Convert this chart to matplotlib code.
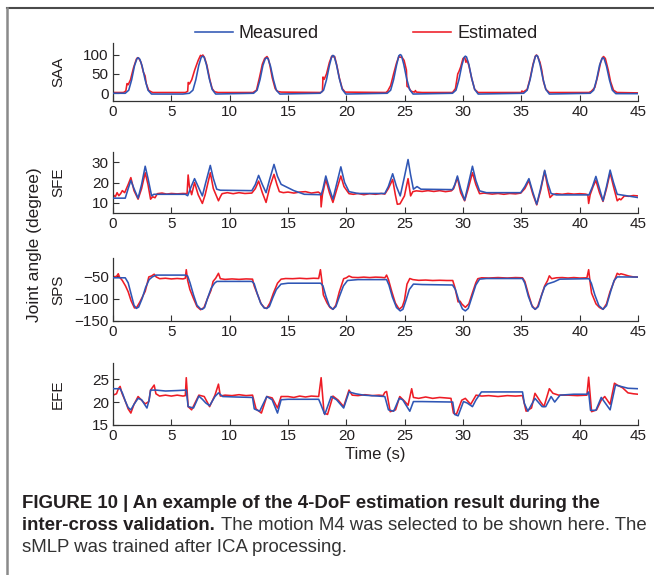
import matplotlib
matplotlib.use("Agg")
import matplotlib.pyplot as plt
from matplotlib import font_manager
from matplotlib.lines import Line2D

# ---------------- data ----------------
x_ticks = [0, 5, 10, 15, 20, 25, 30, 35, 40, 45]
panel_names = ["SAA", "SFE", "SPS", "EFE"]
y_ticks = {"SAA": [0, 50, 100], "SFE": [10, 20, 30], "SPS": [-150, -100, -50], "EFE": [15, 20, 25]}
y_limits = {"SAA": (-20, 130), "SFE": (5, 35), "SPS": (-150, -10), "EFE": (15, 28.5)}
legend_labels = ["Measured", "Estimated"]

t_saa_meas = [0, 1.05, 1.35, 1.6, 1.85, 2.05, 2.15, 2.3, 2.5, 2.75, 3.0, 3.3, 4.5, 6.0,
              6.55, 6.85, 7.1, 7.35, 7.55, 7.66, 7.8, 8.0, 8.25, 8.5, 8.8,
              12.05, 12.35, 12.6, 12.85, 13.05, 13.18, 13.3, 13.5, 13.75, 14.0, 14.3,
              17.75, 18.05, 18.3, 18.55, 18.75, 18.85, 18.95, 19.15, 19.4, 19.65, 19.95,
              23.5, 23.8, 24.05, 24.3, 24.5, 24.62, 24.72, 24.92, 25.17, 25.42, 25.72,
              29.1, 29.4, 29.65, 29.9, 30.1, 30.2, 30.3, 30.5, 30.75, 31.0, 31.3,
              35.2, 35.5, 35.75, 36.0, 36.2, 36.3, 36.4, 36.6, 36.85, 37.1, 37.4,
              40.9, 41.2, 41.45, 41.7, 41.9, 42.0, 42.1, 42.3, 42.55, 42.8, 43.1, 45.0]
saa_meas = [0, 0, 8, 35, 72, 89, 92, 88, 70, 35, 8, -2, -2, -2,
            0, 8, 35, 72, 92, 96, 94, 75, 38, 10, -2,
            0, 8, 35, 72, 89, 92, 89, 70, 35, 8, -2,
            0, 8, 35, 72, 95, 98, 96, 75, 38, 10, -2,
            0, 8, 35, 72, 97, 100, 98, 75, 38, 10, -2,
            0, 8, 35, 72, 93, 96, 94, 75, 38, 10, -2,
            0, 8, 35, 72, 95, 98, 96, 75, 38, 10, -2,
            0, 8, 35, 72, 89, 92, 89, 70, 35, 8, -1, -1]

t_saa_est = [0, 0.9, 1.1, 1.2, 1.3, 1.5, 1.75, 2.0, 2.1, 2.2, 2.4, 2.6, 2.75, 2.85, 3.05, 3.2, 3.4,
             6.2, 6.4, 6.45, 6.55, 6.75, 7.0, 7.3, 7.5, 7.6, 7.7, 7.85, 8.05, 8.3, 8.5, 8.7, 9.0,
             12.0, 12.3, 12.55, 12.8, 13.0, 13.2, 13.3, 13.45, 13.65, 13.9, 14.1, 14.4,
             17.8, 17.95, 18.0, 18.1, 18.3, 18.55, 18.75, 18.85, 19.0, 19.2, 19.4, 19.65, 19.9,
             23.4, 23.55, 23.8, 24.05, 24.3, 24.5, 24.62, 24.75, 24.95, 25.15, 25.2, 25.35, 25.55,
             25.85, 25.92, 26.0, 26.5,
             29.1, 29.35, 29.55, 29.65, 29.8, 30.0, 30.15, 30.25, 30.35, 30.5, 30.75, 31.0, 31.3,
             35.0, 35.05, 35.15, 35.5, 35.75, 36.0, 36.2, 36.3, 36.4, 36.6, 36.75, 36.9, 37.1, 37.4,
             40.8, 41.0, 41.3, 41.55, 41.8, 41.95, 42.05, 42.2, 42.45, 42.65, 42.9, 43.2, 45.0]
saa_est = [2, 2, 6, 25, 22, 35, 65, 88, 92, 91, 80, 55, 45, 25, 8, 5, 2,
           2, 5, 28, 24, 35, 60, 85, 98, 96, 99, 92, 72, 35, 12, 4, 2,
           2, 8, 40, 75, 90, 95, 90, 72, 40, 12, 5, 3,
           2, 5, 42, 36, 50, 80, 96, 94, 95, 70, 40, 12, 3,
           2, 6, 20, 50, 78, 95, 93, 94, 85, 60, 18, 15, 5,
           3, 7, 3, 2,
           2, 12, 50, 56, 68, 90, 93, 80, 86, 72, 38, 10, 2,
           2, 6, 3, 10, 38, 75, 96, 99, 95, 80, 60, 30, 10, 2,
           2, 5, 15, 45, 80, 92, 95, 90, 60, 30, 8, 2, 1]

t_sfe_meas = [0, 1.05, 1.3, 1.53, 1.8, 2.15, 2.45, 2.76, 3.0, 3.31, 3.5, 6.2,
              6.4, 6.7, 6.99, 7.3, 7.66, 7.95, 8.34, 8.6, 8.89, 9.2, 11.9,
              12.2, 12.48, 12.8, 13.12, 13.45, 13.8, 14.1, 14.41, 15.5, 16.4, 17.85,
              18.0, 18.24, 18.55, 18.85, 19.2, 19.53, 19.85, 20.23, 21.0, 23.3,
              23.6, 23.97, 24.3, 24.62, 24.95, 25.29, 25.5, 25.75, 26.06, 26.4, 29.1,
              29.3, 29.52, 29.8, 30.14, 30.45, 30.81, 31.1, 31.42, 32.0, 34.95,
              35.3, 35.65, 36.0, 36.32, 36.65, 37.0, 37.25, 37.55, 38.0, 40.8,
              41.1, 41.39, 41.7, 42.0, 42.3, 42.61, 42.9, 43.22, 44.0, 45.0]
sfe_meas = [12.3, 12.3, 17, 21, 17, 12.3, 19, 28, 22, 13.4, 14.2, 14.2,
            13.5, 18, 21.9, 18, 13.4, 20, 28.4, 22, 16.7, 16.2, 16,
            19, 23.5, 19, 15, 22, 28.9, 23, 19.1, 16, 14.2, 14.0,
            17, 23.2, 17, 11.8, 20, 27.7, 20, 15.5, 14.6, 14.6,
            18, 24.3, 18, 13.4, 22, 31.3, 24, 16.7, 18, 16.7, 16.5,
            19, 23.2, 17, 11.3, 19, 28, 21, 15.9, 15, 15,
            18, 21.9, 15, 9.3, 17, 26, 20, 14.6, 13.9, 13.9,
            18, 23, 17, 11, 18, 26.1, 20, 14.2, 13.5, 12.6]

t_sfe_est = [0, 0.2, 0.35, 0.5, 0.65, 0.8, 1.0, 1.3, 1.53, 1.8, 2.15, 2.45, 2.76, 3.0, 3.22, 3.4,
             3.6, 3.8, 4.2, 4.6, 5.0, 5.5, 6.0, 6.35, 6.44, 6.55, 6.74, 6.99, 7.3, 7.66, 7.9,
             8.34, 8.6, 9.04, 9.2, 9.35, 9.8, 10.3, 10.8, 11.3, 11.9, 12.2, 12.48, 12.8, 13.12,
             13.45, 13.8, 14.05, 14.26, 14.6, 15.0, 15.5, 16.0, 16.5, 17.0, 17.6, 17.8, 17.84,
             17.95, 18.24, 18.55, 18.85, 19.2, 19.53, 19.8, 20.23, 20.6, 21.0, 21.5, 22.0, 22.5,
             23.0, 23.3, 23.6, 23.97, 24.2, 24.37, 24.6, 24.98, 25.29, 25.51, 25.7, 26.0, 26.5,
             27.0, 27.5, 28.0, 28.5, 29.0, 29.2, 29.52, 29.8, 30.14, 30.45, 30.81, 31.1, 31.42,
             31.8, 32.5, 33.0, 33.5, 34.0, 34.5, 34.95, 35.3, 35.65, 36.0, 36.32, 36.65, 37.0,
             37.25, 37.46, 37.7, 38.0, 38.5, 39.0, 39.5, 40.0, 40.5, 40.7, 40.77, 40.9, 41.15,
             41.39, 41.7, 42.0, 42.3, 42.61, 42.9, 43.22, 43.4, 43.53, 43.83, 44.2, 44.6, 45.0]
sfe_est = [14, 13, 15, 13.5, 14.5, 16, 15, 19, 22.4, 16, 11.8, 17, 24.8, 19, 11.8, 13,
           12.5, 14.5, 14.8, 14.3, 14.6, 14.4, 14.6, 14.5, 23.7, 18, 14, 20, 14, 9.7, 14,
           24.8, 17, 11, 13, 14.5, 15, 14.5, 15, 14.6, 14.8, 17, 20.7, 15, 10.2,
           18, 24, 19, 15.5, 15, 15.3, 14.8, 15.3, 15.5, 14.8, 15.3, 14.5, 8,
           14, 21.5, 15, 10.2, 17, 23.2, 18, 14.5, 14.2, 14.6, 14, 14.5, 14.2,
           14.6, 14.3, 17, 21.5, 14, 9.3, 9.5, 13.4, 21.9, 13.4, 15.5, 15.9, 15.6,
           16, 15.6, 16, 15.5, 15.9, 17, 22.4, 15, 11, 17, 24.8, 19, 14.5,
           14.8, 14.3, 14.6, 14.2, 14.6, 14.4, 14.8, 17, 21, 14, 9, 16, 25.6,
           18, 12.6, 14, 14.5, 14.2, 14.6, 14.3, 14.5, 14.3, 14, 9.7, 14, 18,
           21, 15, 10.7, 17, 24.8, 18, 11, 12, 11.5, 13.4, 13.2, 13.6, 13.4]

t_sps_meas = [0, 1.05, 1.3, 1.55, 1.8, 2.0, 2.2, 2.5, 2.8, 3.1, 3.37, 3.7, 6.2,
              6.4, 6.6, 6.9, 7.2, 7.5, 7.66, 7.85, 8.1, 8.4, 8.7, 8.9, 11.9,
              12.1, 12.35, 12.65, 12.95, 13.18, 13.4, 13.7, 14.0, 14.4, 15.0, 17.8,
              18.0, 18.25, 18.55, 18.85, 19.1, 19.4, 19.75, 20.1, 21.0, 23.45,
              23.65, 23.95, 24.3, 24.62, 24.85, 25.1, 25.4, 25.75, 26.5, 29.1,
              29.35, 29.65, 29.95, 30.2, 30.45, 30.75, 31.1, 31.42, 32.0, 35.1,
              35.3, 35.6, 35.95, 36.2, 36.45, 36.75, 37.0, 37.25, 37.8, 38.3, 40.8,
              41.0, 41.3, 41.65, 42.0, 42.3, 42.65, 42.95, 43.22, 45.0]
sps_meas = [-54, -54, -65, -90, -115, -122, -119, -100, -75, -58, -52, -48, -48,
            -50, -65, -92, -115, -123, -124, -120, -100, -78, -66, -62, -62,
            -67, -88, -110, -121, -122, -118, -98, -80, -68, -66, -66,
            -72, -95, -117, -124, -118, -96, -72, -60, -58, -58,
            -70, -97, -120, -127.6, -124, -105, -80, -68, -69, -70,
            -80, -105, -123, -127.6, -122, -98, -70, -57, -55.6, -55.6,
            -66, -95, -119, -124, -118, -92, -74, -67.6, -63, -57, -56,
            -66, -92, -116, -124, -116, -85, -60, -52, -52.4]

t_sps_est = [0, 0.3, 0.45, 0.55, 0.8, 1.07, 1.3, 1.55, 1.84, 2.05, 2.3, 2.6, 2.76, 2.9, 3.07,
             3.3, 3.53, 3.7, 4.0, 4.5, 5.0, 5.5, 6.0, 6.2, 6.28, 6.4, 6.59, 6.9, 7.2, 7.51,
             7.8, 8.1, 8.4, 8.58, 8.8, 9.04, 9.2, 9.6, 10.2, 10.8, 11.4, 11.96, 12.1, 12.4,
             12.7, 13.0, 13.18, 13.45, 13.75, 14.1, 14.41, 14.8, 15.4, 16.0, 16.6, 17.2, 17.63,
             17.78, 17.9, 18.03, 18.35, 18.6, 18.85, 19.1, 19.4, 19.77, 20.0, 20.23, 20.5, 21.0,
             21.5, 22.0, 22.5, 23.0, 23.3, 23.45, 23.61, 23.9, 24.2, 24.53, 24.8, 24.98, 25.1,
             25.2, 25.44, 25.7, 26.2, 26.8, 27.4, 28.0, 28.6, 29.12, 29.3, 29.58, 29.75, 29.89,
             30.2, 30.5, 30.8, 31.1, 31.27, 31.6, 32.2, 33.0, 33.8, 34.5, 35.1, 35.3, 35.6,
             35.9, 36.17, 36.4, 36.7, 37.0, 37.25, 37.4, 37.6, 38.0, 38.5, 39.0, 39.5, 40.0,
             40.62, 40.77, 40.9, 41.02, 41.4, 41.7, 42.0, 42.3, 42.6, 42.92, 43.22, 43.4,
             43.53, 43.83, 44.2, 44.6, 45.0]
sps_est = [-52, -51, -45, -52, -60, -72, -85, -105, -121, -119, -108, -92, -84, -70, -52,
           -50, -46, -52, -56, -55, -56.5, -55.5, -56.5, -55, -36, -60, -80, -100, -118, -125,
           -120, -100, -82, -62, -55, -44, -56, -57.5, -56.5, -57.5, -56.5, -57, -72, -92,
           -112, -121, -122, -110, -88, -66, -57, -55.6, -56, -55, -56, -55, -55.5,
           -36, -60, -92, -110, -120, -124, -115, -85, -56, -54, -50, -53, -53.5,
           -52.5, -53.5, -52.5, -53, -54, -48, -58, -85, -110, -124, -118, -104, -85,
           -68, -55.6, -58, -59.6, -59, -60, -59.5, -60, -60, -75, -107.6, -106, -112,
           -119.6, -112, -88, -65, -56, -54, -54.5, -53.5, -54.5, -53.5, -54, -62, -90,
           -115, -124, -118, -95, -72, -60, -49.6, -56, -54, -53.5, -54.5, -53.5, -54.5,
           -54, -36, -65, -88, -112, -120, -124, -112, -85, -64, -44, -47,
           -45, -47, -50, -52, -52.4]

t_efe_meas = [0, 0.61, 0.8, 1.07, 1.3, 1.53, 1.8, 2.15, 2.45, 2.7, 2.91, 3.1, 3.22, 3.68, 4.5,
              5.5, 6.28, 6.44, 6.9, 7.36, 7.66, 7.95, 8.28, 8.74, 9.04, 9.4, 10.5, 11.96, 12.11,
              12.57, 13.18, 13.64, 14.1, 14.41, 15.0, 17.63, 17.78, 18.15, 18.7, 19.16, 19.77,
              20.23, 20.8, 21.5, 23.3, 23.61, 24.06, 24.53, 24.83, 25.44, 25.75, 26.5, 29.12,
              29.28, 29.58, 30.04, 30.35, 30.81, 31.12, 31.58, 33.0, 35.1, 35.26, 35.56, 36.17,
              36.78, 37.09, 37.55, 37.86, 38.32, 39.5, 40.62, 40.77, 40.93, 41.39, 41.85, 42.61,
              43.07, 43.53, 44.14, 45.0]
efe_meas = [22.9, 22.9, 22.0, 20.1, 18.8, 18.3, 19.5, 20.8, 20.5, 19.5, 18.7, 20.5, 22.6, 22.6, 22.4,
            22.5, 22.6, 19.0, 18.7, 21.3, 20.6, 19.8, 19.2, 21.2, 22.0, 21.2, 21.1, 21.0, 18.5,
            18.0, 21.2, 20.5, 17.6, 20.5, 20.6, 20.6, 19.7, 17.3, 21.2, 20.5, 18.7,
            22.2, 21.8, 21.5, 21.2, 18.3, 18.0, 20.8, 20.5, 18.0, 20.1, 20.1, 20.0,
            17.3, 17.0, 20.1, 19.8, 19.0, 20.5, 22.2, 22.2, 22.2, 19.7, 18.0, 20.8,
            19.0, 19.0, 21.2, 20.0, 21.5, 21.7, 21.7, 22.2, 18.2, 18.2, 21.0, 18.3,
            23.7, 23.4, 23.0, 22.9]

t_efe_est = [0, 0.3, 0.46, 0.61, 0.77, 1.07, 1.3, 1.53, 1.8, 2.15, 2.45, 2.76, 3.07, 3.22, 3.53,
             3.68, 3.99, 4.5, 5.0, 5.5, 6.0, 6.2, 6.28, 6.44, 6.74, 7.36, 7.82, 8.28, 8.74, 9.04,
             9.2, 9.6, 10.2, 10.8, 11.4, 11.96, 12.26, 12.72, 13.18, 13.64, 14.1, 14.41, 15.0,
             15.5, 16.0, 16.5, 17.0, 17.63, 17.84, 18.09, 18.39, 18.85, 19.31, 19.77, 20.23,
             20.5, 21.0, 21.6, 22.2, 22.8, 23.15, 23.3, 23.45, 23.76, 24.22, 24.58, 24.98,
             25.29, 25.6, 25.75, 26.2, 26.8, 27.4, 28.0, 28.5, 28.97, 29.18, 29.43, 29.89,
             30.2, 30.66, 31.12, 31.6, 32.2, 33.0, 33.8, 34.5, 35.1, 35.41, 35.87, 36.17,
             36.63, 36.94, 37.4, 37.71, 38.2, 39.0, 39.8, 40.62, 40.77, 41.02, 41.45, 41.85,
             42.15, 42.61, 42.98, 43.22, 43.68, 44.14, 44.6, 45.0]
efe_est = [21.5, 21.8, 22.9, 23.4, 21.9, 20.1, 18.5, 17.6, 19.5, 21.2, 20.4, 19.6, 20.1, 22.6, 23.7,
           21.8, 21.3, 21.5, 21.3, 21.5, 21.3, 21.4, 25.3, 19.0, 18.3, 21.5, 21.2, 19.0, 21.5, 23.9,
           21.3, 21.5, 21.4, 21.6, 21.4, 21.5, 18.5, 17.6, 21.2, 20.9, 18.7, 21.2, 21.2,
           21.0, 21.3, 21.1, 21.3, 21.2, 25.3, 17.6, 17.3, 21.3, 20.4, 19.0, 22.6,
           21.5, 21.4, 21.6, 21.4, 21.5, 21.4, 22.1, 22.3, 17.9, 18.3, 21.2, 20.2,
           19.3, 22.9, 21.0, 20.8, 21.1, 20.8, 21.0, 20.9, 20.8, 17.6, 17.3, 20.4,
           20.8, 19.5, 21.5, 21.3, 21.4, 21.2, 21.4, 21.3, 21.4, 18.0, 18.7, 21.9,
           20.1, 19.0, 22.9, 21.9, 21.5, 21.5, 21.4, 21.5, 25.4, 17.9, 18.3, 20.4,
           21.2, 19.5, 24.1, 23.7, 23.1, 22.0, 21.8, 21.7]

# ---------------- style ----------------
names = {f.name for f in font_manager.fontManager.ttflist}
base_font = "Liberation Sans" if "Liberation Sans" in names else "DejaVu Sans"
cap_font = "Liberation Sans Narrow" if "Liberation Sans Narrow" in names else base_font
plt.rcParams["font.family"] = [base_font, "DejaVu Sans"]

text_col = "#231f20"
blue = "#2f56b5"
red = "#ee1c25"

W, H = 654, 575
fig = plt.figure(figsize=(W / 100, H / 100), dpi=100)


def fx(px):
    return px / W


def fy(py):
    return 1 - py / H


ax_left, ax_right = 113, 638
panel_px = {"SAA": (43, 101), "SFE": (152, 213), "SPS": (258, 321), "EFE": (363, 425)}
series = {
    "SAA": (t_saa_meas, saa_meas, t_saa_est, saa_est),
    "SFE": (t_sfe_meas, sfe_meas, t_sfe_est, sfe_est),
    "SPS": (t_sps_meas, sps_meas, t_sps_est, sps_est),
    "EFE": (t_efe_meas, efe_meas, t_efe_est, efe_est),
}

handles = None
for name in panel_names:
    top, bot = panel_px[name]
    ax = fig.add_axes([fx(ax_left), fy(bot), fx(ax_right - ax_left), (bot - top) / H])
    tm, vm, te, ve = series[name]
    le, = ax.plot(te, ve, color=red, lw=1.15, zorder=2)
    lm, = ax.plot(tm, vm, color=blue, lw=1.15, zorder=3)
    handles = [lm, le]
    ax.set_xlim(0, 45)
    ax.set_ylim(*y_limits[name])
    ax.set_xticks(x_ticks)
    ax.set_yticks(y_ticks[name])
    for s in ("top", "right"):
        ax.spines[s].set_visible(False)
    for s in ("left", "bottom"):
        ax.spines[s].set_color("#333333")
        ax.spines[s].set_linewidth(0.9)
    ax.tick_params(direction="in", length=4, width=0.8, colors="#333333",
                   labelcolor=text_col, labelsize=11, pad=3)
    ax.set_ylabel(name, fontsize=11, color=text_col)
    ax.yaxis.set_label_coords((65 - ax_left) / (ax_right - ax_left), 0.5)
    ax.patch.set_alpha(0)
    if name == "EFE":
        ax.set_xlabel("Time (s)", fontsize=12, color=text_col, labelpad=3)

fig.legend(handles, legend_labels, loc="center", bbox_to_anchor=(fx(366), fy(34)),
           ncol=2, frameon=False, fontsize=13, handlelength=2.1, handletextpad=0.35,
           columnspacing=5.2, labelcolor=text_col)

fig.text(fx(35), fy(245), "Joint angle (degree)", rotation=90, ha="center", va="center",
         fontsize=12.5, color=text_col)

# frame lines
fig.add_artist(Line2D([fx(7), fx(653)], [fy(8), fy(8)], color="#4a4a4a", lw=1.5))
fig.add_artist(Line2D([fx(7), fx(7)], [fy(8), fy(575)], color="#8a8a8a", lw=1.8))

# caption
cap_fs = 11.5
line1 = fig.text(fx(22), fy(504), "FIGURE 10 | An example of the 4-DoF estimation result during the",
                 fontsize=cap_fs, fontweight="bold", family=cap_font, color=text_col, va="center")
b2 = fig.text(fx(22), fy(526), "inter-cross validation.", fontsize=cap_fs, fontweight="bold",
              family=cap_font, color=text_col, va="center")
fig.canvas.draw()
r = fig.canvas.get_renderer()
w1 = line1.get_window_extent(r).width
scale = 583 / w1
for t in (line1, b2):
    t.set_fontsize(cap_fs * scale)
fig.canvas.draw()
bw = b2.get_window_extent(r).x1
n2 = fig.text(bw / W + fx(6), fy(526), "The motion M4 was selected to be shown here. The",
              fontsize=cap_fs * scale, family=cap_font, color="#333333", va="center")
fig.text(fx(22), fy(548), "sMLP was trained after ICA processing.", fontsize=cap_fs * scale,
         family=cap_font, color="#333333", va="center")

fig.savefig("out.png", dpi=100)
